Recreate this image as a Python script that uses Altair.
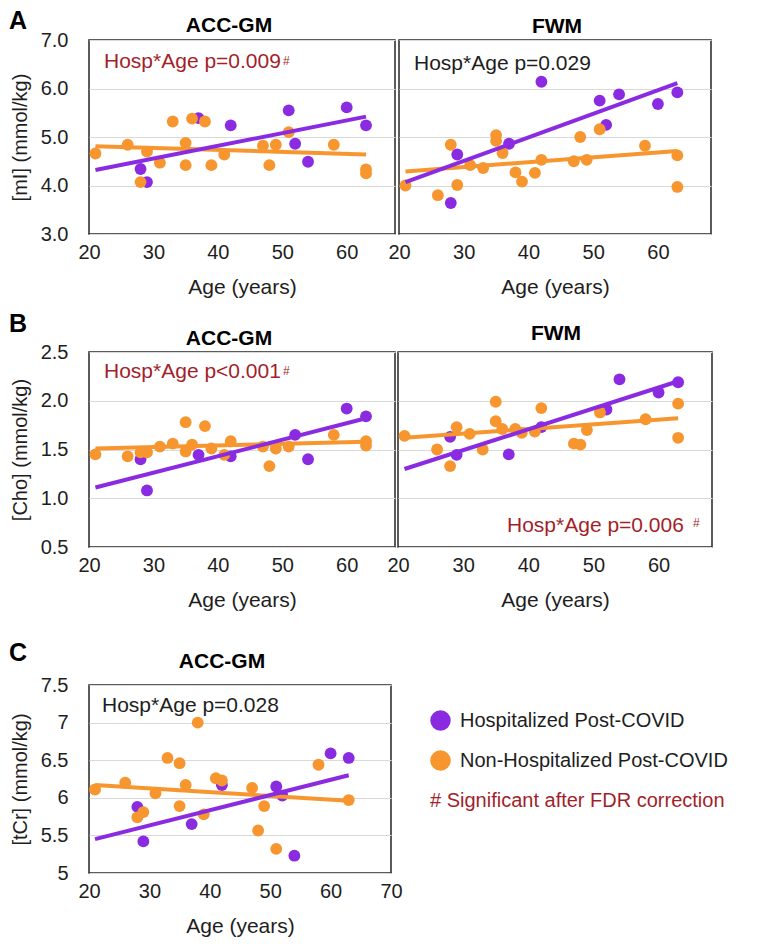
import altair as alt
import pandas as pd

FONT = "Liberation Sans"
PURPLE = "#8A2BE2"
ORANGE = "#F7962F"
DARKRED = "#A31F2A"
INK = "#1E1E1E"
GRID = "#D9D9D9"
GROUPS = ["Hospitalized Post-COVID", "Non-Hospitalized Post-COVID"]
FIT_AGES = [21, 63]

# ---- A left: [mI], ACC-GM ----
mi_acc_h_age = [28, 29, 37, 42, 51, 52, 54, 60, 63]
mi_acc_h_val = [4.34, 4.07, 5.39, 5.24, 5.55, 4.86, 4.49, 5.61, 5.24]
mi_acc_n_age = [21, 26, 28, 29, 31, 33, 35, 35, 36, 38, 39, 41, 47, 48, 49, 51, 58, 63, 63]
mi_acc_n_val = [4.66, 4.84, 4.07, 4.70, 4.47, 5.32, 4.88, 4.42, 5.38, 5.32, 4.42, 4.64, 4.82, 4.42, 4.84, 5.10, 4.84, 4.33, 4.25]
mi_acc_h_fit = [4.32, 5.42]
mi_acc_n_fit = [4.81, 4.64]

# ---- A right: [mI], FWM ----
mi_fwm_h_age = [28, 29, 37, 42, 51, 52, 54, 60, 63]
mi_fwm_h_val = [3.64, 4.64, 4.86, 6.14, 5.75, 5.25, 5.88, 5.68, 5.92]
mi_fwm_n_age = [21, 26, 28, 29, 31, 33, 35, 35, 36, 38, 39, 41, 42, 47, 48, 49, 51, 58, 63, 63]
mi_fwm_n_val = [4.00, 3.80, 4.84, 4.01, 4.42, 4.36, 5.04, 4.92, 4.67, 4.27, 4.08, 4.26, 4.53, 4.50, 5.00, 4.53, 5.16, 4.82, 4.62, 3.97]
mi_fwm_h_fit = [4.07, 6.11]
mi_fwm_n_fit = [4.29, 4.71]

# ---- B left: [Cho], ACC-GM ----
cho_acc_h_age = [28, 29, 37, 42, 52, 54, 60, 63]
cho_acc_h_val = [1.40, 1.08, 1.445, 1.43, 1.65, 1.40, 1.92, 1.84]
cho_acc_n_age = [21, 26, 28, 29, 31, 33, 35, 35, 36, 38, 39, 41, 42, 47, 48, 49, 51, 58, 63, 63]
cho_acc_n_val = [1.45, 1.43, 1.47, 1.47, 1.53, 1.56, 1.78, 1.48, 1.55, 1.74, 1.51, 1.445, 1.585, 1.53, 1.33, 1.51, 1.53, 1.65, 1.585, 1.54]
cho_acc_h_fit = [1.11, 1.82]
cho_acc_n_fit = [1.51, 1.58]

# ---- B right: [Cho], FWM ----
cho_fwm_h_age = [28, 29, 37, 42, 52, 54, 60, 63]
cho_fwm_h_val = [1.63, 1.445, 1.45, 1.73, 1.91, 2.22, 2.085, 2.19]
cho_fwm_n_age = [21, 26, 28, 29, 31, 33, 35, 35, 36, 38, 39, 41, 42, 47, 48, 49, 51, 58, 63, 63]
cho_fwm_n_val = [1.64, 1.50, 1.33, 1.73, 1.66, 1.50, 1.99, 1.79, 1.71, 1.71, 1.67, 1.685, 1.925, 1.56, 1.55, 1.70, 1.88, 1.81, 1.97, 1.62]
cho_fwm_h_fit = [1.30, 2.20]
cho_fwm_n_fit = [1.62, 1.82]

# ---- C: [tCr], ACC-GM ----
tcr_h_age = [28, 29, 37, 42, 51, 52, 54, 60, 63]
tcr_h_val = [5.88, 5.42, 5.65, 6.17, 6.15, 6.03, 5.23, 6.59, 6.53]
tcr_n_age = [21, 26, 28, 29, 31, 33, 35, 35, 36, 38, 39, 41, 42, 47, 48, 49, 51, 58, 63]
tcr_n_val = [6.11, 6.20, 5.74, 5.81, 6.06, 6.53, 6.46, 5.89, 6.17, 7.00, 5.78, 6.26, 6.23, 6.13, 5.565, 5.89, 5.32, 6.44, 5.97]
tcr_h_fit = [5.45, 6.30]
tcr_n_fit = [6.17, 5.96]

# ---- texts ----
titles = ["ACC-GM", "FWM", "ACC-GM", "FWM", "ACC-GM"]
y_titles = ["[mI] (mmol/kg)", "[Cho] (mmol/kg)", "[tCr] (mmol/kg)"]
annotations = ["Hosp*Age p=0.009", "Hosp*Age p=0.029", "Hosp*Age p<0.001", "Hosp*Age p=0.006", "Hosp*Age p=0.028"]
letters = ["A", "B", "C"]
x_title = "Age (years)"
legend_note = "# Significant after FDR correction"


def text_layer(s, pos, size, color, weight="normal", align="left"):
    return alt.Chart(pd.DataFrame({"t": [s]})).mark_text(
        align=align, baseline="alphabetic", fontSize=size, font=FONT, fontWeight=weight, color=color
    ).encode(x=alt.value(pos[0]), y=alt.value(pos[1]), text="t:N")


def panel(h_age, h_val, n_age, n_val, h_fit, n_fit, ydom, yticks, yfmt, xdom, xticks,
          width, height, title, title_pos, ytitle, annot, annot_color, annot_pos,
          hash_pos=None, letter=None, letter_pos=None, legend=None):
    pts = pd.DataFrame({
        "age": h_age + n_age,
        "val": h_val + n_val,
        "group": [GROUPS[0]] * len(h_age) + [GROUPS[1]] * len(n_age),
    })
    fit = pd.DataFrame({
        "age": FIT_AGES + FIT_AGES,
        "val": n_fit + h_fit,
        "group": [GROUPS[1]] * 2 + [GROUPS[0]] * 2,
    })
    x = alt.X("age:Q", scale=alt.Scale(domain=xdom, nice=False, zero=False),
              axis=alt.Axis(values=xticks, format="d", title=x_title, grid=False, ticks=False,
                            domain=False, labelFlush=False, labelFontSize=20, labelFont=FONT,
                            labelColor=INK, labelPadding=8, titleFontSize=21, titleFont=FONT,
                            titleFontWeight="normal", titleColor=INK, titlePadding=14))
    if ytitle:
        yaxis = alt.Axis(values=yticks, format=yfmt, title=ytitle, grid=True, gridColor=GRID,
                         ticks=False, domain=False, labelFlush=False, labelFontSize=20,
                         labelFont=FONT, labelColor=INK, labelPadding=21, titleFontSize=20,
                         titleFont=FONT, titleFontWeight="normal", titleColor=INK, titlePadding=10)
    else:
        yaxis = alt.Axis(values=yticks, labels=False, title="", grid=True, gridColor=GRID,
                         ticks=False, domain=False)
    y = alt.Y("val:Q", scale=alt.Scale(domain=ydom, nice=False, zero=False), axis=yaxis)
    cscale = alt.Scale(domain=GROUPS, range=[PURPLE, ORANGE])

    points = alt.Chart(pts).mark_circle(size=140, opacity=1).encode(
        x=x, y=y, color=alt.Color("group:N", scale=cscale, legend=legend))
    lines = alt.Chart(fit).mark_line(strokeWidth=4).encode(
        x=x, y=y, color=alt.Color("group:N", scale=cscale, legend=None))
    layers = [points, lines,
              text_layer(annot, annot_pos, 21, annot_color),
              text_layer(title, title_pos, 21, "#000", weight="bold", align="center")]
    if hash_pos:
        layers.append(text_layer("#", hash_pos, 12, annot_color))
    if letter:
        layers.append(text_layer(letter, letter_pos, 25, "#000", weight="bold"))
    return alt.layer(*layers).properties(width=width, height=height)


XT = [20, 30, 40, 50, 60]
ind = dict(x="independent", y="independent", color="independent")

a1 = panel(mi_acc_h_age, mi_acc_h_val, mi_acc_n_age, mi_acc_n_val, mi_acc_h_fit, mi_acc_n_fit,
           [3, 7], [3, 4, 5, 6, 7], ".1f", [20, 67.5], XT, 306, 194, titles[0], (140, -8),
           y_titles[0], annotations[0], DARKRED, (15, 28), hash_pos=(194, 25),
           letter=letters[0], letter_pos=(-80, -11))
a2 = panel(mi_fwm_h_age, mi_fwm_h_val, mi_fwm_n_age, mi_fwm_n_val, mi_fwm_h_fit, mi_fwm_n_fit,
           [3, 7], [3, 4, 5, 6, 7], ".1f", [20, 68.2], XT, 312, 194, titles[1], (158, -7),
           None, annotations[1], INK, (15, 30))
b1 = panel(cho_acc_h_age, cho_acc_h_val, cho_acc_n_age, cho_acc_n_val, cho_acc_h_fit, cho_acc_n_fit,
           [0.5, 2.5], [0.5, 1.0, 1.5, 2.0, 2.5], ".1f", [20, 67.5], XT, 306, 195, titles[2], (140, -7),
           y_titles[1], annotations[2], DARKRED, (15, 26), hash_pos=(194, 23),
           letter=letters[1], letter_pos=(-80, -20))
b2 = panel(cho_fwm_h_age, cho_fwm_h_val, cho_fwm_n_age, cho_fwm_n_val, cho_fwm_h_fit, cho_fwm_n_fit,
           [0.5, 2.5], [0.5, 1.0, 1.5, 2.0, 2.5], ".1f", [20, 68.2], XT, 314, 195, titles[3], (158, -12),
           None, annotations[3], DARKRED, (109, 180), hash_pos=(295, 175))

legend = alt.Legend(orient="none", legendX=341, legendY=25, direction="vertical",
                    title=legend_note, titleOrient="bottom", titleAnchor="start", titleColor=DARKRED,
                    titleFontSize=20, titleFontWeight="normal", titleFont=FONT, titleLimit=500,
                    titlePadding=20, labelFontSize=20, labelFont=FONT, labelColor=INK, labelLimit=500,
                    labelOffset=9, symbolType="circle", symbolSize=420, symbolStrokeWidth=0,
                    rowPadding=19, padding=0, symbolOffset=0)
c = panel(tcr_h_age, tcr_h_val, tcr_n_age, tcr_n_val, tcr_h_fit, tcr_n_fit,
          [5, 7.5], [5, 5.5, 6, 6.5, 7, 7.5], ".1~f", [20, 70], [20, 30, 40, 50, 60, 70], 302, 188,
          titles[4], (133, -17), y_titles[2], annotations[4], INK, (13, 27),
          letter=letters[2], letter_pos=(-80, -24), legend=legend)

rowA = alt.hconcat(a1, a2, spacing=4, bounds="flush").resolve_scale(**ind)
rowB = alt.hconcat(b1, b2, spacing=3, bounds="flush").resolve_scale(**ind)
top = alt.vconcat(rowA, rowB, spacing=13).resolve_scale(**ind)
chart = (
    alt.vconcat(top, c, spacing=29)
    .resolve_scale(**ind)
    .properties(padding=0)
    .configure(font=FONT)
    .configure_view(stroke="#262626", strokeWidth=1.5)
)

chart.save("out.html", embed_options={"renderer": "svg", "actions": False})
